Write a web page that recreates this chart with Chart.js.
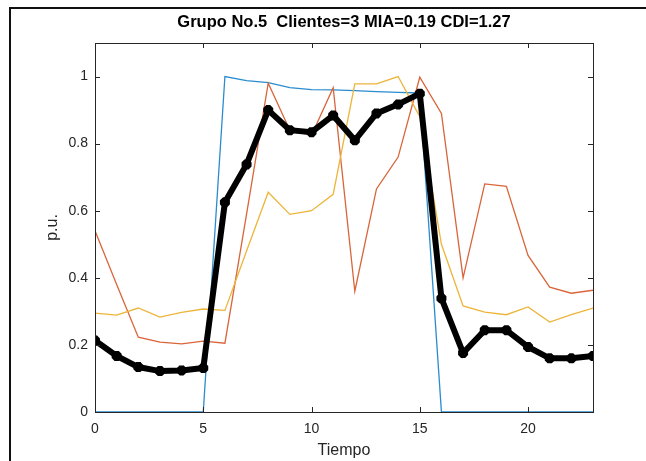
<!DOCTYPE html>
<html>
<head>
<meta charset="utf-8">
<script src="https://cdn.jsdelivr.net/npm/chart.js@4.4.1/dist/chart.umd.min.js"></script>
<style>
  html, body { margin: 0; padding: 0; background: #fff; }
  #wrap { position: relative; width: 646px; height: 461px; }
  #frame {
    position: absolute; left: 9px; top: 7px; right: 0; bottom: 0;
    border-top: 2px solid #111; border-left: 2px solid #111;
    pointer-events: none;
  }
</style>
</head>
<body>
<div id="wrap">
  <canvas id="mainChart"></canvas>
  <div id="frame"></div>
</div>
<script>
// datos
const tiempo = [0, 1, 2, 3, 4, 5, 6, 7, 8, 9, 10, 11, 12, 13, 14, 15, 16, 17, 18, 19, 20, 21, 22, 23];
const cliente1 = [0, 0, 0, 0, 0, 0, 1.0, 0.988, 0.982, 0.967, 0.961, 0.96, 0.958, 0.955, 0.953, 0.951, 0, 0, 0, 0, 0, 0, 0, 0];
const cliente2 = [0.54, 0.38, 0.223, 0.208, 0.203, 0.211, 0.205, 0.59, 0.98, 0.84, 0.825, 0.967, 0.36, 0.665, 0.76, 0.998, 0.89, 0.40, 0.68, 0.673, 0.467, 0.372, 0.354, 0.363];
const cliente3 = [0.295, 0.289, 0.31, 0.283, 0.297, 0.307, 0.303, 0.48, 0.655, 0.589, 0.60, 0.649, 0.978, 0.978, 1.0, 0.88, 0.50, 0.316, 0.298, 0.29, 0.313, 0.268, 0.29, 0.31];
const centroide = [0.213, 0.167, 0.134, 0.122, 0.124, 0.131, 0.625, 0.738, 0.90, 0.84, 0.834, 0.884, 0.81, 0.89, 0.917, 0.949, 0.339, 0.176, 0.244, 0.244, 0.194, 0.16, 0.16, 0.167];

const xTicks = [0, 5, 10, 15, 20];
const yTicks = [0, 0.2, 0.4, 0.6, 0.8, 1];
const titulo = 'Grupo No.5  Clientes=3 MIA=0.19 CDI=1.27';

const FONT = "'Liberation Sans', Arial, sans-serif";

function toPoints(values) {
    return values.map((v, i) => ({ x: tiempo[i], y: v }));
}

// caja estilo MATLAB: borde, ticks hacia dentro y título
const matlabBox = {
    id: 'matlabBox',
    afterDatasetsDraw(chart) {
        const { ctx, chartArea: a, scales } = chart;
        const len = 5;
        ctx.save();
        ctx.strokeStyle = '#262626';
        ctx.lineWidth = 1;
        ctx.strokeRect(Math.round(a.left) + 0.5, Math.round(a.top) + 0.5,
            Math.round(a.right - a.left), Math.round(a.bottom - a.top));
        ctx.beginPath();
        for (const v of xTicks) {
            const px = Math.round(scales.x.getPixelForValue(v)) + 0.5;
            ctx.moveTo(px, a.bottom); ctx.lineTo(px, a.bottom - len);
            ctx.moveTo(px, a.top); ctx.lineTo(px, a.top + len);
        }
        for (const v of yTicks) {
            const py = Math.round(scales.y.getPixelForValue(v)) + 0.5;
            ctx.moveTo(a.left, py); ctx.lineTo(a.left + len, py);
            ctx.moveTo(a.right, py); ctx.lineTo(a.right - len, py);
        }
        ctx.stroke();

        ctx.fillStyle = '#000';
        ctx.font = 'bold 16.5px ' + FONT;
        ctx.textAlign = 'center';
        ctx.textBaseline = 'middle';
        ctx.fillText(titulo, (a.left + a.right) / 2, 22);
        ctx.restore();
    }
};

function lineSet(label, values, color, order) {
    return {
        label,
        data: toPoints(values),
        borderColor: color,
        backgroundColor: color,
        borderWidth: 1.3,
        pointRadius: 0,
        tension: 0,
        order,
    };
}

const ctx = document.getElementById('mainChart').getContext('2d');
new Chart(ctx, {
    type: 'line',
    data: {
        datasets: [
            {
                label: 'Centroide',
                data: toPoints(centroide),
                borderColor: '#000',
                backgroundColor: '#000',
                borderWidth: 6,
                pointStyle: 'star',
                pointRadius: 5,
                pointBorderWidth: 4,
                tension: 0,
                order: 0,
            },
            lineSet('Cliente 1', cliente1, '#2a8ccf', 3),
            lineSet('Cliente 2', cliente2, '#d9653a', 2),
            lineSet('Cliente 3', cliente3, '#edb43a', 1),
        ],
    },
    options: {
        responsive: true,
        maintainAspectRatio: false,
        animation: false,
        layout: { padding: { left: 40, right: 53, top: 43, bottom: 0 } },
        plugins: {
            legend: { display: false },
            tooltip: { enabled: false },
        },
        scales: {
            x: {
                type: 'linear',
                min: 0,
                max: 23,
                afterBuildTicks: (s) => { s.ticks = xTicks.map(v => ({ value: v })); },
                afterFit: (s) => { s.height = 49; },
                grid: { display: false, drawTicks: false },
                border: { display: false },
                ticks: { color: '#262626', padding: 9, font: { family: FONT, size: 14 } },
                title: {
                    display: true, text: 'Tiempo', color: '#262626',
                    font: { family: FONT, size: 16 }, padding: { top: 0, bottom: 1 },
                },
            },
            y: {
                min: 0,
                max: 1.1,
                afterBuildTicks: (s) => { s.ticks = yTicks.map(v => ({ value: v })); },
                afterFit: (s) => { s.width = 55; },
                grid: { display: false, drawTicks: false },
                border: { display: false },
                ticks: {
                    color: '#262626', padding: 7, font: { family: FONT, size: 14 },
                    callback: (v) => String(Math.round(v * 10) / 10),
                },
                title: {
                    display: true, text: 'p.u.', color: '#262626',
                    font: { family: FONT, size: 16 }, padding: { top: 3, bottom: 0 },
                },
            },
        },
    },
    plugins: [matlabBox],
});
</script>
</body>
</html>
